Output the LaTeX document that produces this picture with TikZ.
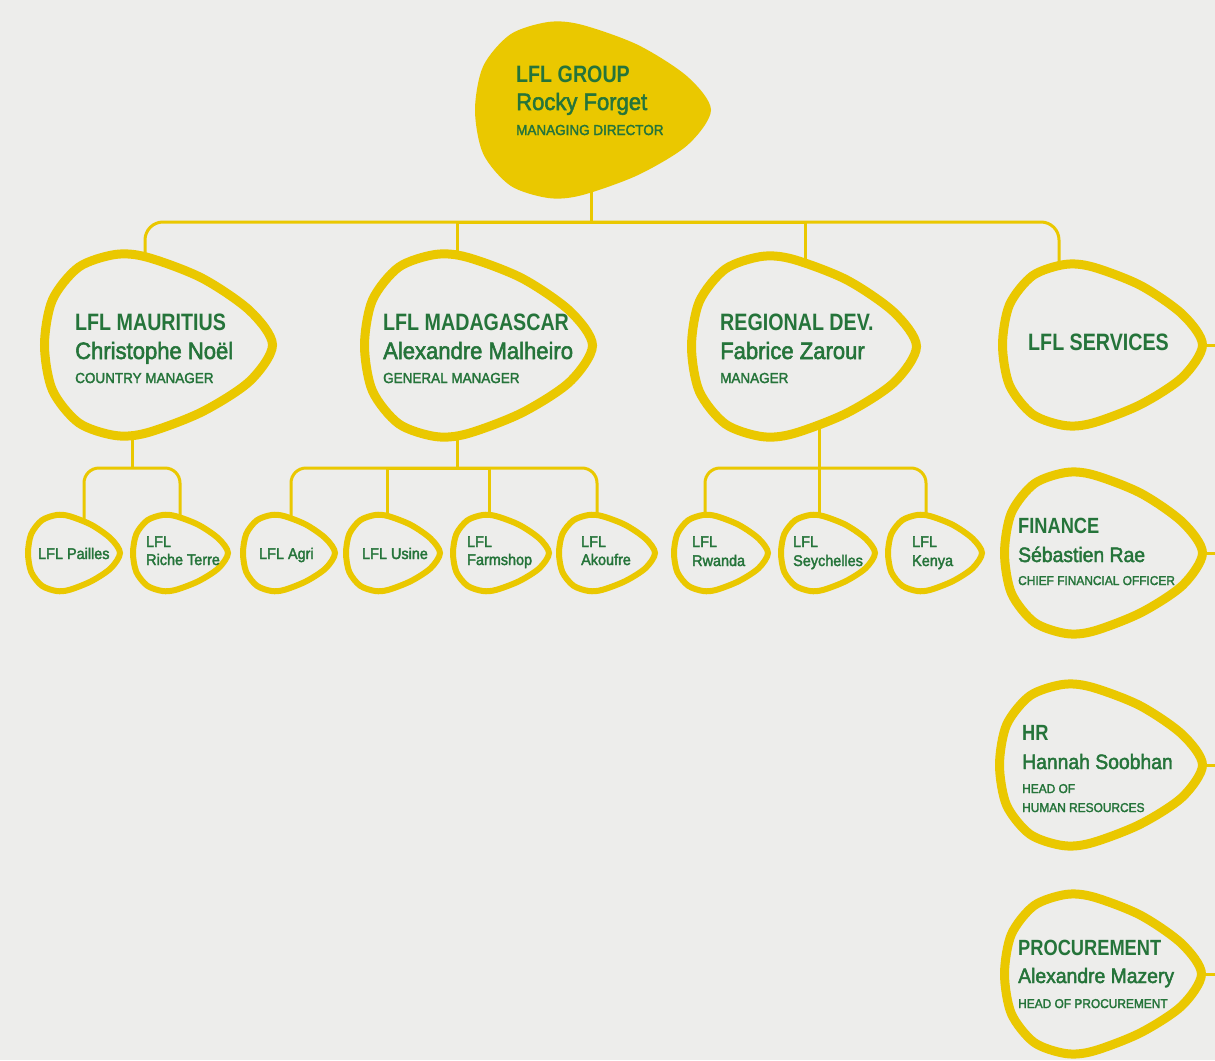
\documentclass[tikz,border=0pt]{standalone}
\usepackage{fontspec}
\usepackage{tikz}
\usetikzlibrary{backgrounds}
\newfontfamily\hfont{Liberation Sans}[FakeStretch=0.83]
\newfontfamily\nfont{Liberation Sans}[FakeStretch=0.93,FakeBold=2.2]
\definecolor{lflyellow}{HTML}{EAC800}
\definecolor{lflgreen}{HTML}{25743A}
\definecolor{paper}{HTML}{EDEDEB}
% egg outline, unit box
\newcommand{\eggpath}{plot[smooth cycle] coordinates {(1,0) (0.8,-0.38) (0.38,-0.74) (-0.1,-0.97) (-0.38,-1) (-0.7,-0.86) (-0.93,-0.5) (-1,0) (-0.93,0.5) (-0.7,0.86) (-0.38,1) (-0.1,0.97) (0.38,0.74) (0.8,0.4)}}
\newcommand{\egg}[6]{%
  \draw[#6, shift={(#2,#3)}, xscale=#4/2, yscale=#5/2] \eggpath;
  \node[eggbox, minimum width=#4, minimum height=#5] (#1) at (#2,#3) {};}

\begin{document}
\begin{tikzpicture}[x=1pt, y=-1pt,
  eggbox/.style={draw=none, inner sep=0},
  bigegg/.style={draw=lflyellow, line width=9pt, fill=paper},
  smallegg/.style={draw=lflyellow, line width=6pt, fill=paper},
  topegg/.style={draw=none, fill=lflyellow},
  link/.style={draw=lflyellow, line width=3pt},
  headtxt/.style={anchor=base west, inner sep=0, text=lflgreen, font=\hfont\bfseries\fontsize{23.7}{28}\selectfont},
  nametxt/.style={anchor=base west, inner sep=0, text=lflgreen, font=\nfont\fontsize{23.7}{28}\selectfont},
  roletxt/.style={anchor=base west, inner sep=0, text=lflgreen, font=\nfont\fontsize{14.5}{17}\selectfont},
  headsub/.style={anchor=base west, inner sep=0, text=lflgreen, font=\hfont\bfseries\fontsize{22}{26}\selectfont},
  namesub/.style={anchor=base west, inner sep=0, text=lflgreen, font=\nfont\fontsize{20.8}{25}\selectfont},
  rolesub/.style={anchor=base west, inner sep=0, text=lflgreen, font=\nfont\fontsize{12.8}{15}\selectfont},
  tagtxt/.style={anchor=base west, inner sep=0, text=lflgreen, font=\nfont\fontsize{15.5}{19}\selectfont}]
  \useasboundingbox (0,0) rectangle (1215,1060);

  % eggs
  \egg{grp}{593}{110}{236}{176}{topegg}
  \egg{mau}{158.5}{345}{228}{181}{bigegg}
  \egg{mad}{478.5}{345.5}{228}{182}{bigegg}
  \egg{reg}{804}{346.5}{225}{180}{bigegg}
  \egg{srv}{1102.5}{345}{200}{161}{bigegg}
  \egg{fin}{1103.5}{553}{198}{161}{bigegg}
  \egg{hr}{1101}{765}{203}{161}{bigegg}
  \egg{pro}{1103}{974}{197}{159}{bigegg}
  \egg{pai}{74}{553}{92}{76}{smallegg}
  \egg{ric}{180.5}{553}{95}{76}{smallegg}
  \egg{agr}{289}{553}{92}{76}{smallegg}
  \egg{usi}{393}{553}{94}{76}{smallegg}
  \egg{frm}{501}{553}{96}{76}{smallegg}
  \egg{ako}{607}{553}{96}{76}{smallegg}
  \egg{rwa}{721}{553}{94}{76}{smallegg}
  \egg{sey}{828}{553}{94}{76}{smallegg}
  \egg{ken}{935}{553}{94}{76}{smallegg}

  \coordinate (gbus) at (591,222);
  \coordinate (mbus) at (132,468);
  \coordinate (dbus) at (457,468);
  \coordinate (rbus) at (819,468);
  \coordinate (srvout) at (1216,345);
  \coordinate (finout) at (1216,553);
  \coordinate (hrout) at (1216,765);
  \coordinate (proout) at (1216,974);

  \begin{scope}[on background layer]
    \fill[paper] (0,0) rectangle (1215,1060);
    \draw[link] ([xshift=-2pt]grp.center) -- (gbus);
    \draw[link, rounded corners=18pt] ([xshift=-13.5pt]mau.center) |- (gbus) -| ([xshift=-43.5pt]srv.center);
    \draw[link] ([xshift=-21.5pt]mad.center) |- (gbus);
    \draw[link] ([xshift=1pt]reg.center) |- (gbus);
    \draw[link] ([xshift=-26.5pt]mau.center) -- (mbus);
    \draw[link, rounded corners=15pt] ([xshift=10pt]pai.center) |- (mbus) -| ([xshift=-0.5pt]ric.center);
    \draw[link] ([xshift=-21.5pt]mad.center) -- (dbus);
    \draw[link, rounded corners=15pt] ([xshift=2pt]agr.center) |- (dbus) -| ([xshift=-10pt]ako.center);
    \draw[link] ([xshift=-6pt]usi.center) |- (dbus);
    \draw[link] ([xshift=-12pt]frm.center) |- (dbus);
    \draw[link] ([xshift=15pt]reg.center) -- (rbus);
    \draw[link, rounded corners=15pt] ([xshift=-16pt]rwa.center) |- (rbus) -| ([xshift=-9pt]ken.center);
    \draw[link] ([xshift=-9pt]sey.center) |- (rbus);
    \draw[link] (srv.center) -- (srvout);
    \draw[link] (fin.center) -- (finout);
    \draw[link] (hr.center) -- (hrout);
    \draw[link] (pro.center) -- (proout);
  \end{scope}

  % texts
  \node[headtxt] (grp-a) at (516,82) {LFL GROUP};
  \node[nametxt] (grp-b) at (516,110) {Rocky Forget};
  \node[roletxt] (grp-c) at (516,135) {MANAGING DIRECTOR};
  \node[headtxt] (mau-a) at (75,330) {LFL MAURITIUS};
  \node[nametxt] (mau-b) at (75,359) {Christophe Noël};
  \node[roletxt] (mau-c) at (75,383) {COUNTRY MANAGER};
  \node[headtxt] (mad-a) at (383,330) {LFL MADAGASCAR};
  \node[nametxt] (mad-b) at (383,359) {Alexandre Malheiro};
  \node[roletxt] (mad-c) at (383,383) {GENERAL MANAGER};
  \node[headtxt] (reg-a) at (720,330) {REGIONAL DEV.};
  \node[nametxt] (reg-b) at (720,359) {Fabrice Zarour};
  \node[roletxt] (reg-c) at (720,383) {MANAGER};
  \node[headtxt] (srv-a) at (1028,350) {LFL SERVICES};
  \node[headsub] (fin-a) at (1018,533) {FINANCE};
  \node[namesub] (fin-b) at (1018,562) {Sébastien Rae};
  \node[rolesub] (fin-c) at (1018,585) {CHIEF FINANCIAL OFFICER};
  \node[headsub] (hr-a) at (1022,740) {HR};
  \node[namesub] (hr-b) at (1022,769) {Hannah Soobhan};
  \node[rolesub] (hr-c) at (1022,793) {HEAD OF};
  \node[rolesub] (hr-d) at (1022,812) {HUMAN RESOURCES};
  \node[headsub] (pro-a) at (1018,955) {PROCUREMENT};
  \node[namesub] (pro-b) at (1018,983) {Alexandre Mazery};
  \node[rolesub] (pro-c) at (1018,1008) {HEAD OF PROCUREMENT};
  \node[tagtxt] (pai-a) at (38,559) {LFL Pailles};
  \node[tagtxt] (ric-a) at (146,547) {LFL};
  \node[tagtxt] (ric-b) at (146,565) {Riche Terre};
  \node[tagtxt] (agr-a) at (259,559) {LFL Agri};
  \node[tagtxt] (usi-a) at (362,559) {LFL Usine};
  \node[tagtxt] (frm-a) at (467,547) {LFL};
  \node[tagtxt] (frm-b) at (467,565) {Farmshop};
  \node[tagtxt] (ako-a) at (581,547) {LFL};
  \node[tagtxt] (ako-b) at (581,565) {Akoufre};
  \node[tagtxt] (rwa-a) at (692,547) {LFL};
  \node[tagtxt] (rwa-b) at (692,566) {Rwanda};
  \node[tagtxt] (sey-a) at (793,547) {LFL};
  \node[tagtxt] (sey-b) at (793,566) {Seychelles};
  \node[tagtxt] (ken-a) at (912,547) {LFL};
  \node[tagtxt] (ken-b) at (912,566) {Kenya};
\end{tikzpicture}
\end{document}
